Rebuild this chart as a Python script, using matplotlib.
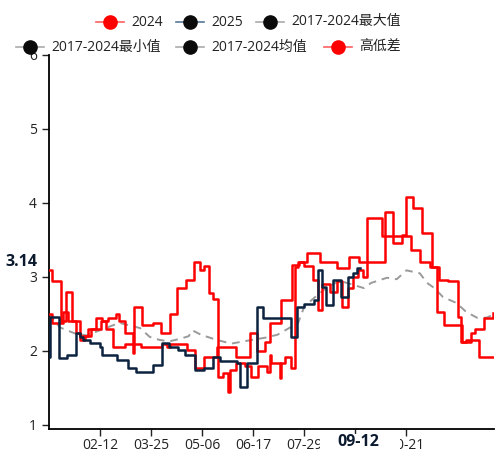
import matplotlib
matplotlib.use("Agg")
import matplotlib.pyplot as plt
import matplotlib.dates as mdates
from matplotlib.lines import Line2D
from matplotlib.patches import Rectangle
import pandas as pd

plt.rcParams['font.family'] = ['Open Sans', 'Noto Sans CJK SC', 'DejaVu Sans']

# data: day offset from 01-01 (2024 calendar) -> value, step changes
red1_days = [0, 3, 10, 14, 19, 26, 32, 39, 44, 49, 55, 58, 63, 69, 70, 77, 86, 92, 100,
             105, 113, 119, 124, 128, 132, 135, 139, 143, 147, 149, 154, 161, 166, 172,
             179, 182, 183, 190, 191, 194, 199, 202, 205, 210, 217, 221, 225, 231, 237,
             241, 246, 250, 254, 258, 262, 274, 298, 305, 313, 319, 325, 340, 347, 350,
             358, 365]
red1_vals = [3.10, 2.95, 2.40, 2.80, 2.40, 2.20, 2.30, 2.45, 2.40, 2.45, 2.50, 2.40, 2.25,
             1.97, 2.60, 2.35, 2.38, 2.25, 2.50, 2.85, 2.96, 3.20, 3.10, 3.15, 2.78, 2.70,
             1.65, 1.70, 1.45, 1.75, 1.84, 1.80, 1.65, 1.80, 1.72, 1.95, 1.84, 1.64, 1.84,
             1.92, 1.77, 3.14, 3.20, 3.15, 2.96, 2.55, 2.90, 2.80, 2.95, 2.60, 2.85, 3.00,
             3.10, 3.00, 3.80, 3.55, 3.36, 3.20, 3.14, 2.53, 2.35, 2.12, 2.24, 2.30, 2.45,
             2.51]

red2_days = [0, 3, 12, 16, 22, 26, 30, 35, 43, 47, 53, 63, 76, 93, 97, 100, 114, 120, 128,
             138, 154, 165, 171, 178, 182, 191, 200, 206, 212, 223, 237, 247, 255, 276, 283,
             290, 294, 299, 307, 315, 321, 328, 336, 339, 343, 354, 365]
red2_vals = [2.50, 2.38, 2.53, 2.40, 2.25, 2.15, 2.20, 2.30, 2.40, 2.30, 2.05, 2.10, 2.05,
             2.10, 2.05, 2.10, 2.01, 1.77, 1.92, 2.05, 1.92, 2.24, 2.00, 2.12, 2.38, 2.69,
             3.16, 3.20, 3.33, 3.20, 3.12, 3.27, 3.20, 3.88, 3.46, 3.57, 4.08, 3.93, 3.60,
             3.14, 2.96, 2.95, 2.46, 2.12, 2.15, 1.92, 1.92]

y2025_days = [0, 1, 8, 15, 22, 26, 28, 34, 42, 44, 56, 65, 72, 86, 93, 99, 106, 112, 120,
              128, 135, 141, 155, 157, 163, 171, 176, 199, 204, 210, 218, 221, 225, 228,
              234, 240, 246, 250, 253, 256]
y2025_vals = [1.92, 2.46, 1.90, 1.95, 2.24, 2.19, 2.15, 2.11, 2.05, 1.95, 1.88, 1.77, 1.72,
              1.81, 2.11, 2.05, 2.01, 1.95, 1.74, 1.77, 1.92, 1.86, 1.84, 1.51, 1.84, 2.60,
              2.44, 2.19, 2.60, 2.64, 2.69, 3.10, 2.87, 2.62, 2.96, 2.73, 3.00, 3.05, 3.12,
              3.12]

mean_days = [0, 9, 21, 31, 42, 58, 75, 83, 91, 99, 109, 115, 118, 125, 138, 150, 167, 178,
             188, 205, 210, 219, 228, 239, 249, 259, 265, 278, 286, 294, 305, 311, 317, 324,
             335, 343, 352, 360, 365]
mean_vals = [2.50, 2.32, 2.24, 2.21, 2.28, 2.38, 2.31, 2.19, 2.15, 2.13, 2.17, 2.20, 2.28,
             2.22, 2.15, 2.10, 2.15, 2.18, 2.22, 2.38, 2.60, 2.73, 2.85, 2.95, 2.90, 2.85,
             2.92, 2.99, 2.97, 3.09, 3.05, 2.92, 2.85, 2.73, 2.65, 2.53, 2.45, 2.45, 2.49]

tick_labels = ['02-12', '03-25', '05-06', '06-17', '07-29', '09-09', '10-21']
legend_labels = ['2024', '2025', '2017-2024最大值', '2017-2024最小值', '2017-2024均值', '高低差']

start = pd.Timestamp('2024-01-01')
def to_dates(days):
    return start + pd.to_timedelta(days, unit='D')

W, H = 504, 453
fig = plt.figure(figsize=(W / 100, H / 100), dpi=100)
ax = fig.add_axes([48.8 / W, 24 / H, (494 - 48.8) / W, (429 - 55) / H])

red = '#ff0000'
navy = '#0c2340'
ax.plot(to_dates(mean_days), mean_vals, color='#9a9a9a', lw=1.4, ls=(0, (4, 3)), zorder=2)
ax.plot(to_dates(red1_days), red1_vals, color=red, lw=1.8, drawstyle='steps-post', zorder=3)
ax.plot(to_dates(red2_days), red2_vals, color=red, lw=1.8, drawstyle='steps-post', zorder=3)
ax.plot(to_dates(y2025_days), y2025_vals, color=navy, lw=1.8, drawstyle='steps-post', zorder=4)

ax.set_xlim(start, start + pd.Timedelta(days=366))
ax.set_ylim(1 - 4 / 74, 6)
ax.set_yticks([1, 2, 3, 4, 5, 6])
ticks = [pd.Timestamp('2024-' + t) for t in tick_labels]
ax.set_xticks(ticks)
ax.xaxis.set_major_formatter(mdates.DateFormatter('%m-%d'))
ax.tick_params(labelsize=10, colors='#222222', length=5, width=1)
ax.tick_params(axis='x', pad=1.5)
for s in ['top', 'right']:
    ax.spines[s].set_visible(False)
for s in ['left', 'bottom']:
    ax.spines[s].set_linewidth(1.3)

# legend, two rows
def legend_item(xc, ytop, lcolor, mcolor, label):
    yc = 1 - ytop / H
    fig.add_artist(Line2D([(xc - 14) / W, (xc + 14) / W], [yc, yc], transform=fig.transFigure,
                          color=lcolor, lw=1.2))
    fig.add_artist(Line2D([xc / W], [yc], transform=fig.transFigure, marker='o', ms=9.5,
                          color=mcolor, lw=0))
    fig.text((xc + 21) / W, yc, label, ha='left', va='center', fontsize=10, color='#222222')

legend_item(110, 22, '#ff6060', red, legend_labels[0])
legend_item(190, 22, '#5a7896', '#0a0a0a', legend_labels[1])
legend_item(270, 22, '#aaaaaa', '#0a0a0a', legend_labels[2])
legend_item(30, 47, '#aaaaaa', '#0a0a0a', legend_labels[3])
legend_item(190, 47, '#aaaaaa', '#0a0a0a', legend_labels[4])
legend_item(338, 47, '#ff6060', red, legend_labels[5])

# crosshair labels
fig.add_artist(Rectangle((0, 1 - 272 / H), 44 / W, 22 / H, transform=fig.transFigure,
                         fc='white', ec='none', zorder=5))
fig.text(5 / W, 1 - 262 / H, '3.14', ha='left', va='center', fontsize=11.5,
         fontweight='bold', color='#0b1a2e', zorder=6)
fig.add_artist(Rectangle((320 / W, 0), 80 / W, 19 / H, transform=fig.transFigure,
                         fc='white', ec='none', zorder=5))
fig.text(358 / W, 1 - 442 / H, '09-12', ha='center', va='center', fontsize=11.5,
         fontweight='bold', color='#0b1a2e', zorder=6)

fig.savefig('out.png', dpi=100)
